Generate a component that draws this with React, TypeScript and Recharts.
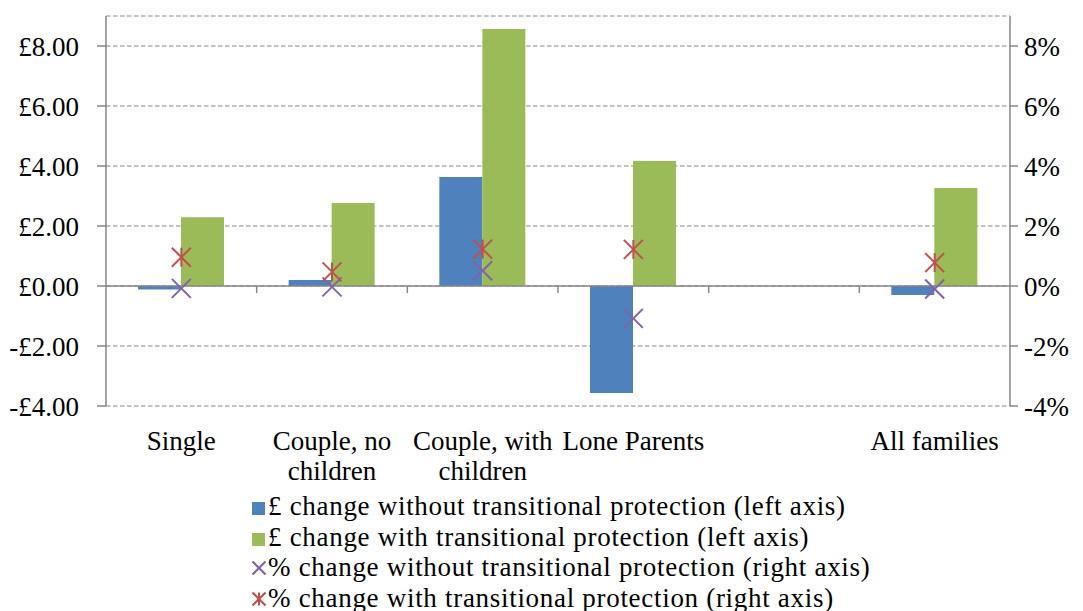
import React from "react";
import {
  ComposedChart,
  Bar,
  Line,
  XAxis,
  YAxis,
  CartesianGrid,
  ReferenceLine,
  Legend,
} from "recharts";

const categories = [
  "Single",
  "Couple, no children",
  "Couple, with children",
  "Lone Parents",
  "",
  "All families",
];
const xLabelLines = [
  ["Single"],
  ["Couple, no", "children"],
  ["Couple, with", "children"],
  ["Lone Parents"],
  [""],
  ["All families"],
];
const gbpWithout = [-0.12, 0.2, 3.63, -3.57, null, -0.3];
const gbpWith = [2.29, 2.77, 8.57, 4.17, null, 3.27];
const pctWithout = [-0.08, -0.03, 0.51, -1.08, null, -0.1];
const pctWith = [0.96, 0.47, 1.23, 1.22, null, 0.78];
const leftTicks = [-4, -2, 0, 2, 4, 6, 8];
const rightTicks = [-4, -2, 0, 2, 4, 6, 8];
const seriesNames = [
  "£ change without transitional protection (left axis)",
  "£ change with transitional protection (left axis)",
  "% change without transitional protection (right axis)",
  "% change with transitional protection (right axis)",
];

const BLUE = "#4F81BD";
const GREEN = "#9BBB59";
const PURPLE = "#7F64A8";
const RED = "#C0504D";
const GRAY = "#878787";
const FONT = "'Liberation Serif', 'Times New Roman', serif";

const data = categories.map((c, i) => ({
  category: c,
  gbpWithout: gbpWithout[i],
  gbpWith: gbpWith[i],
  pctWithout: pctWithout[i],
  pctWith: pctWith[i],
}));

const fmtGbp = (v: number) =>
  v < 0 ? `-£${Math.abs(v).toFixed(2)}` : `£${v.toFixed(2)}`;
const fmtPct = (v: number) => `${v}%`;

const XTick = (props: any) => {
  const { x, y, payload } = props;
  const lines = xLabelLines[payload.index] || [String(payload.value)];
  return (
    <text
      x={x}
      y={y + 44}
      textAnchor="middle"
      fontFamily={FONT}
      fontSize={27}
      fill="#000"
    >
      {lines.map((l: string, i: number) => (
        <tspan key={i} x={x} dy={i === 0 ? 0 : 30}>
          {l}
        </tspan>
      ))}
    </text>
  );
};

const XMark = ({ cx, cy, color, r }: any) => (
  <g>
    <line x1={cx - r} y1={cy - r} x2={cx + r} y2={cy + r} stroke={color} strokeWidth={2} />
    <line x1={cx - r} y1={cy + r} x2={cx + r} y2={cy - r} stroke={color} strokeWidth={2} />
  </g>
);

const StarMark = ({ cx, cy, color, r }: any) => (
  <g>
    <line x1={cx - r} y1={cy - r} x2={cx + r} y2={cy + r} stroke={color} strokeWidth={2} />
    <line x1={cx - r} y1={cy + r} x2={cx + r} y2={cy - r} stroke={color} strokeWidth={2} />
    <line x1={cx} y1={cy - r} x2={cx} y2={cy + r} stroke={color} strokeWidth={2} />
  </g>
);

const renderXDot = (props: any) => {
  const { cx, cy, index, value } = props;
  if (value == null || cy == null || isNaN(cy)) return <g key={`x${index}`} />;
  return (
    <g key={`x${index}`}>
      <XMark cx={cx} cy={cy} r={9.5} color={PURPLE} />
    </g>
  );
};

const renderStarDot = (props: any) => {
  const { cx, cy, index, value } = props;
  if (value == null || cy == null || isNaN(cy)) return <g key={`s${index}`} />;
  return (
    <g key={`s${index}`}>
      <StarMark cx={cx} cy={cy} r={9.5} color={RED} />
    </g>
  );
};

const ZeroLine = (props: any) => {
  const { x1, y1, x2, y2 } = props;
  const n = categories.length;
  const ticks = [];
  for (let i = 1; i < n; i++) {
    const tx = x1 + ((x2 - x1) * i) / n;
    ticks.push(
      <line key={i} x1={tx} y1={y1} x2={tx} y2={y1 + 7} stroke={GRAY} strokeWidth={1.5} />
    );
  }
  return (
    <g>
      <line x1={x1} y1={y1} x2={x2} y2={y2} stroke={GRAY} strokeWidth={1.5} />
      {ticks}
    </g>
  );
};

const LegendContent = () => {
  const symbols = [
    <svg width={14} height={14} key="a">
      <rect x={0} y={1} width={13} height={13} fill={BLUE} />
    </svg>,
    <svg width={14} height={14} key="b">
      <rect x={0} y={1} width={13} height={13} fill={GREEN} />
    </svg>,
    <svg width={14} height={16} key="c">
      <XMark cx={7} cy={8} r={6.5} color={PURPLE} />
    </svg>,
    <svg width={14} height={16} key="d">
      <StarMark cx={7} cy={8} r={6.5} color={RED} />
    </svg>,
  ];
  return (
    <div
      style={{
        height: 122,
        paddingLeft: 252,
        fontFamily: FONT,
        fontSize: 27,
        letterSpacing: "0.7px",
        color: "#000",
        textAlign: "left",
      }}
    >
      {seriesNames.map((name, i) => (
        <div
          key={name}
          style={{ height: 30.5, lineHeight: "30.5px", whiteSpace: "nowrap" }}
        >
          <span style={{ display: "inline-block", width: 16 }}>{symbols[i]}</span>
          <span>{name}</span>
        </div>
      ))}
    </div>
  );
};

export default function App() {
  return (
    <div style={{ position: "absolute", left: 0, top: 0, background: "#fff" }}>
      <ComposedChart
        width={1083}
        height={616}
        data={data}
        margin={{ top: 16, right: 0, bottom: 3, left: 0 }}
        barGap={0}
      >
        <CartesianGrid
          yAxisId="left"
          vertical={false}
          stroke={GRAY}
          strokeDasharray="4.5 2.5"
        />
        <XAxis
          dataKey="category"
          axisLine={false}
          tickLine={false}
          tickSize={0}
          tickMargin={0}
          height={85}
          interval={0}
          tick={<XTick />}
        />
        <YAxis
          yAxisId="left"
          orientation="left"
          width={106}
          domain={[-4, 9]}
          ticks={leftTicks}
          tickFormatter={fmtGbp}
          axisLine={{ stroke: GRAY, strokeWidth: 1.5 }}
          tickLine={{ stroke: GRAY, strokeWidth: 1.5 }}
          tickSize={9}
          tickMargin={18}
          tick={{ fill: "#000", fontFamily: FONT, fontSize: 27 }}
          allowDataOverflow
        />
        <YAxis
          yAxisId="right"
          orientation="right"
          width={73}
          domain={[-4, 9]}
          ticks={rightTicks}
          tickFormatter={fmtPct}
          axisLine={{ stroke: GRAY, strokeWidth: 1.5 }}
          tickLine={{ stroke: GRAY, strokeWidth: 1.5 }}
          tickSize={8}
          tickMargin={6}
          tick={{ fill: "#000", fontFamily: FONT, fontSize: 27, textAnchor: "start" }}
          allowDataOverflow
        />
        <Legend verticalAlign="bottom" align="left" content={<LegendContent />} />
        <Bar
          yAxisId="left"
          dataKey="gbpWithout"
          name={seriesNames[0]}
          fill={BLUE}
          barSize={43}
          isAnimationActive={false}
        />
        <Bar
          yAxisId="left"
          dataKey="gbpWith"
          name={seriesNames[1]}
          fill={GREEN}
          barSize={43}
          isAnimationActive={false}
        />
        <ReferenceLine yAxisId="left" y={0} shape={<ZeroLine />} />
        <Line
          yAxisId="right"
          dataKey="pctWithout"
          name={seriesNames[2]}
          stroke="none"
          dot={renderXDot}
          activeDot={false}
          legendType="none"
          isAnimationActive={false}
        />
        <Line
          yAxisId="right"
          dataKey="pctWith"
          name={seriesNames[3]}
          stroke="none"
          dot={renderStarDot}
          activeDot={false}
          legendType="none"
          isAnimationActive={false}
        />
      </ComposedChart>
    </div>
  );
}
